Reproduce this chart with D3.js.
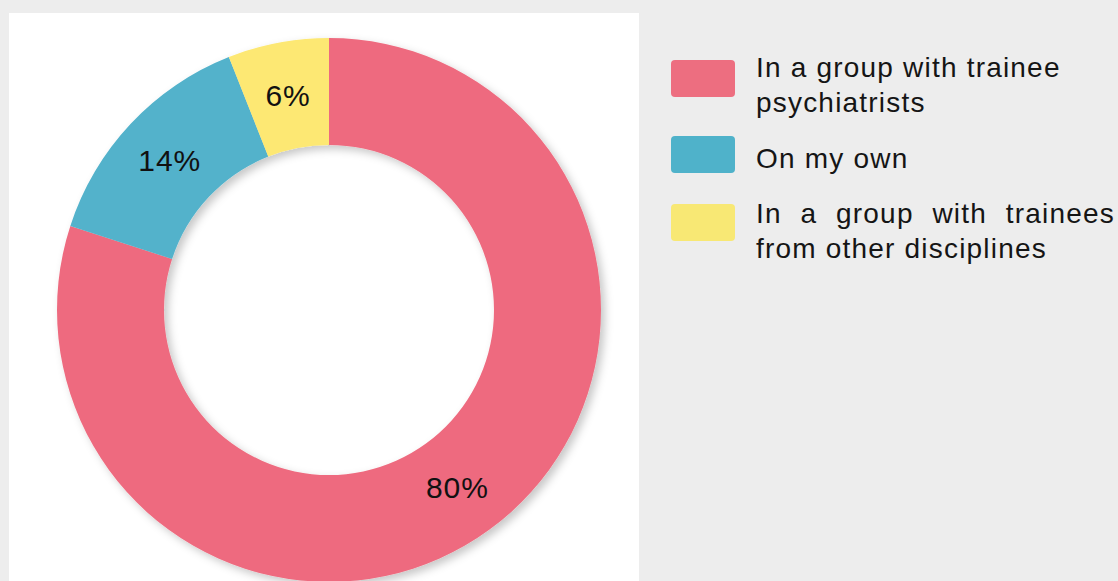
<!DOCTYPE html>
<html>
<head>
<meta charset="utf-8">
<script src="https://cdn.jsdelivr.net/npm/d3@7"></script>
<style>
  html, body { margin: 0; padding: 0; background: #ededed; }
  svg { display: block; }
</style>
</head>
<body>
<svg id="chart" width="1118" height="581"></svg>
<script>
// Who the trainees worked with
const categories = ["In a group with trainee psychiatrists", "On my own", "In a group with trainees from other disciplines"];
const legendLines = [["In a group with trainee", "psychiatrists"], ["On my own"], ["In a group with trainees", "from other disciplines"]];
const percentages = [80, 14, 6];
const sliceColors = ["#ee6b7f", "#52b2cb", "#fde873"];
const swatchColors = ["#ed6e80", "#4fb2ca", "#f8e874"];

const svg = d3.select("#chart");
const W = 1118, H = 581;

svg.append("rect").attr("width", W).attr("height", H).attr("fill", "#ededed");
svg.append("rect").attr("x", 9).attr("y", 13).attr("width", 630).attr("height", H - 13).attr("fill", "#ffffff");

const defs = svg.append("defs");
const shadow = defs.append("filter").attr("id", "ringShadow")
  .attr("x", "-10%").attr("y", "-10%").attr("width", "120%").attr("height", "120%");
shadow.append("feDropShadow")
  .attr("dx", 4).attr("dy", 4).attr("stdDeviation", 4)
  .attr("flood-color", "#000").attr("flood-opacity", 0.22);

const cx = 329, cy = 310, outerR = 272, innerR = 165;

const color = d3.scaleOrdinal().domain(categories).range(sliceColors);
const pie = d3.pie().sort(null).value(d => d.value);
const arcs = pie(categories.map((c, i) => ({ name: c, value: percentages[i] })));
const arc = d3.arc().innerRadius(innerR).outerRadius(outerR);
const labelArc = d3.arc().innerRadius((innerR + outerR) / 2).outerRadius((innerR + outerR) / 2);

const ring = svg.append("g").attr("transform", `translate(${cx},${cy})`);
ring.append("g").attr("filter", "url(#ringShadow)")
  .selectAll("path").data(arcs).join("path")
  .attr("d", arc)
  .attr("fill", d => color(d.data.name));

ring.selectAll("text.pct").data(arcs).join("text")
  .attr("class", "pct")
  .attr("transform", d => `translate(${labelArc.centroid(d)})`)
  .attr("text-anchor", "middle")
  .attr("dy", "0.36em")
  .attr("font-family", "'Liberation Sans', Arial, sans-serif")
  .attr("font-size", 30)
  .attr("letter-spacing", 1)
  .attr("fill", "#111")
  .text(d => d.data.value + "%");

// Legend
const swatchY = [60, 136, 204];
const baselines = [[77, 112], [168], [223, 258]];
const legend = svg.append("g");
categories.forEach((c, i) => {
  legend.append("rect")
    .attr("x", 671).attr("y", swatchY[i])
    .attr("width", 64).attr("height", 37)
    .attr("rx", 4)
    .attr("fill", swatchColors[i]);
  legendLines[i].forEach((line, j) => {
    const t = legend.append("text")
      .attr("x", 756).attr("y", baselines[i][j])
      .attr("font-family", "'Liberation Sans', Arial, sans-serif")
      .attr("font-size", 28)
      .attr("letter-spacing", 1.2)
      .attr("fill", "#151515")
      .text(line);
    // the third entry's first line is set justified to the right edge
    if (i === 2 && j === 0) {
      const natural = t.node().getComputedTextLength();
      const gaps = line.split(" ").length - 1;
      const target = 1115 - 756;
      if (gaps > 0 && target > natural) t.attr("word-spacing", (target - natural) / gaps);
    }
  });
});
</script>
</body>
</html>
